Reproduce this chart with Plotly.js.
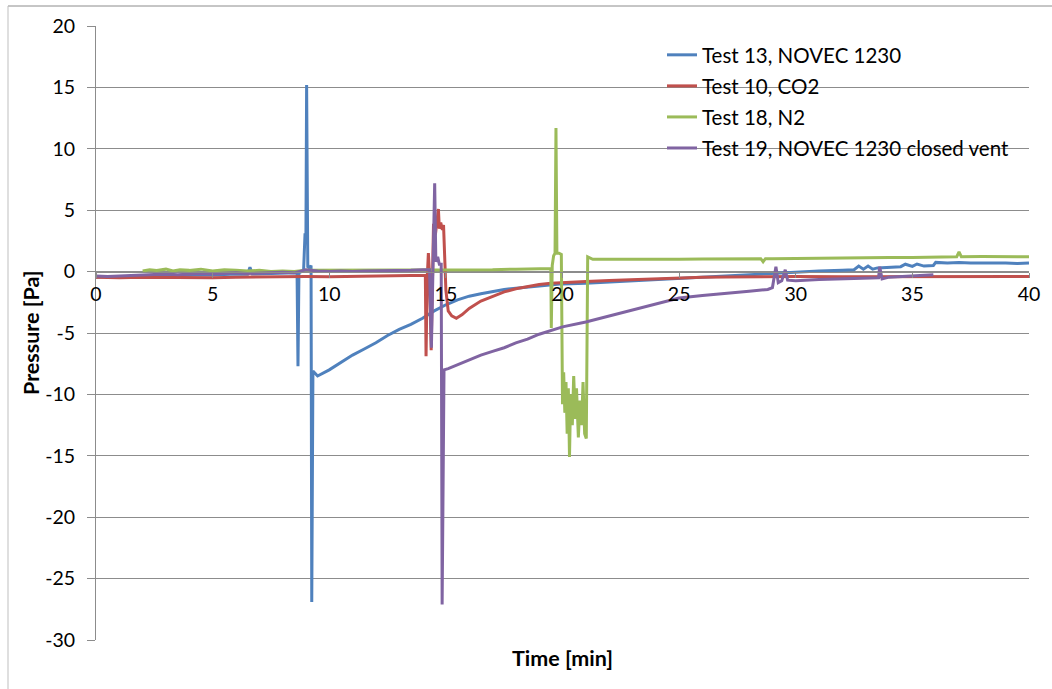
<!DOCTYPE html>
<html>
<head>
<meta charset="utf-8">
<script src="https://cdn.plot.ly/plotly-3.0.1.min.js"></script>
<style>html,body{margin:0;padding:0;background:#fff;}#chart{width:1052px;height:689px;}</style>
</head>
<body>
<div id="chart"></div>
<script>
// ---- Data ----
const seriesNames = ["Test 13, NOVEC 1230", "Test 10, CO2", "Test 18, N2", "Test 19, NOVEC 1230 closed vent"];

const t13 = [0,0.5,1,1.5,2,2.5,3,3.5,4,4.5,5,5.5,6,6.5,6.6,6.7,7,7.5,8,8.5,8.62,8.66,8.7,8.9,8.96,9.0,9.03,9.08,9.15,9.22,9.25,9.3,9.38,9.5,10,10.5,11,11.5,12,12.5,13,13.5,14,14.5,15,15.5,16,16.5,17,17.5,18,19,20,21,22,23,24,25,26,27,28,29,30,31,32,32.5,32.7,32.9,33.1,33.3,33.5,34,34.5,34.7,35,35.2,35.5,35.9,36,36.5,37,37.5,38,38.5,39,39.5,40];
const p13 = [-0.45,-0.4,-0.42,-0.38,-0.35,-0.33,-0.3,-0.32,-0.28,-0.25,-0.27,-0.22,-0.2,-0.22,0.35,-0.2,-0.18,-0.15,-0.12,-0.1,-0.1,-7.7,-0.1,0.1,3.0,3.0,15.2,0.4,0.3,0.5,-26.9,-8.1,-8.3,-8.5,-8.0,-7.4,-6.8,-6.3,-5.8,-5.2,-4.7,-4.3,-3.8,-3.2,-2.7,-2.3,-2.0,-1.8,-1.6,-1.45,-1.35,-1.15,-1.0,-0.95,-0.85,-0.75,-0.65,-0.5,-0.42,-0.32,-0.22,-0.12,-0.05,0.05,0.12,0.15,0.45,0.2,0.45,0.2,0.3,0.35,0.4,0.6,0.42,0.62,0.45,0.5,0.75,0.7,0.75,0.7,0.72,0.68,0.7,0.65,0.7];

const t10 = [0,1,2,3,4,5,6,7,8,9,10,11,12,13,14,14.12,14.15,14.2,14.25,14.3,14.37,14.42,14.47,14.55,14.62,14.68,14.72,14.78,14.85,14.9,15.0,15.1,15.25,15.45,15.7,16,16.5,17,17.5,18,18.5,19,19.5,20,21,22,23,24,25,26,27,28,30,32,34,36,38,40];
const p10 = [-0.45,-0.5,-0.45,-0.48,-0.45,-0.5,-0.45,-0.42,-0.45,-0.4,-0.42,-0.38,-0.35,-0.32,-0.3,-0.3,-6.9,-0.5,1.5,-0.3,-6.4,0.0,3.9,3.0,4.0,5.1,3.5,4.0,3.4,3.8,-1.5,-3.2,-3.6,-3.8,-3.5,-3.0,-2.4,-2.0,-1.65,-1.4,-1.2,-1.05,-0.95,-0.88,-0.8,-0.72,-0.65,-0.58,-0.52,-0.47,-0.44,-0.42,-0.4,-0.42,-0.4,-0.42,-0.4,-0.4];

const t18 = [2.0,2.3,2.6,3.0,3.3,3.6,4.0,4.5,5.0,5.5,6.0,6.5,7.0,7.5,8.0,8.5,9.0,10,11,12,13,14,15,16,17,18,19,19.5,19.52,19.56,19.62,19.68,19.72,19.76,19.85,19.95,20.0,20.05,20.1,20.15,20.2,20.25,20.3,20.35,20.42,20.48,20.55,20.6,20.68,20.75,20.82,20.88,20.95,21.02,21.08,21.3,22,23,24,25,26,27,28,28.5,28.6,28.7,29,30,31,32,33,34,35,36,36.9,37.0,37.1,38,39,40];
const p18 = [0.05,0.15,0.1,0.2,0.05,0.15,0.1,0.2,0.05,0.15,0.1,0.05,0.1,0.0,0.05,0.0,0.1,0.1,0.1,0.1,0.1,0.1,0.1,0.15,0.15,0.2,0.2,0.25,-4.6,0.5,1.3,1.5,11.7,1.5,1.5,1.4,-10.8,-8.2,-11.5,-9.0,-13.2,-9.5,-15.1,-10.0,-12.5,-8.5,-12.0,-9.5,-13.5,-10.5,-12.5,-9.0,-13.2,-13.6,1.2,1.0,1.0,0.98,1.0,1.0,1.02,1.05,1.05,1.05,0.8,1.05,1.05,1.08,1.1,1.1,1.12,1.15,1.15,1.18,1.2,1.6,1.2,1.22,1.2,1.2];

const t19 = [0,0.5,1,1.5,2,2.5,3,3.5,4,4.5,5,5.5,6,6.5,7,7.5,8,8.5,8.8,9,9.5,10,10.5,11,11.5,12,12.5,13,13.5,14,14.3,14.38,14.45,14.52,14.57,14.65,14.72,14.8,14.84,14.92,15.1,15.5,16,16.5,17,17.5,18,18.5,19,19.5,20,21,22,23,24,25,26,27,28,28.8,29.0,29.15,29.25,29.4,29.55,29.65,30,31,32,33,33.55,33.6,33.7,34,35,35.9];
const p19 = [-0.35,-0.4,-0.35,-0.3,-0.3,-0.25,-0.2,-0.25,-0.2,-0.15,-0.2,-0.15,-0.1,-0.15,-0.1,-0.1,-0.05,-0.1,0.05,0.15,0.05,0.0,0.05,0.0,0.05,0.05,0.1,0.1,0.1,0.15,0.15,-6.2,0.2,7.2,0.8,1.2,0.6,0.6,-27.1,-8.0,-7.9,-7.6,-7.2,-6.8,-6.5,-6.2,-5.8,-5.5,-5.1,-4.8,-4.5,-4.1,-3.6,-3.1,-2.6,-2.15,-1.95,-1.8,-1.6,-1.45,-1.3,0.4,-0.9,-0.75,0.15,-0.7,-0.75,-0.65,-0.6,-0.55,-0.5,0.4,-0.6,-0.45,-0.35,-0.25];

const xTicks = [0,5,10,15,20,25,30,35,40];
const yTicks = [-30,-25,-20,-15,-10,-5,0,5,10,15,20];
const colors = ["#4F81BD", "#C0504D", "#9BBB59", "#8064A2"];

// ---- Chart ----
const xs = [t13, t10, t18, t19];
const ys = [p13, p10, p18, p19];
const traces = xs.map((x, i) => ({
  type: "scatter", mode: "lines", x: x, y: ys[i], name: seriesNames[i],
  legendgroup: "g" + i,
  line: {color: colors[i], width: 3}
}));

const FONT = "Lato, 'Liberation Sans', sans-serif";
const gridCol = "#8c8c8c";
const L = 96, R = 1029, T = 26, B = 640;
const px2x = p => (p - L) / (R - L);
const px2y = p => (B - p) / (B - T);

const layout = {
  width: 1052, height: 689,
  margin: {l: L, r: 1052 - R, t: T, b: 689 - B, pad: 0},
  paper_bgcolor: "#fff", plot_bgcolor: "#fff",
  font: {family: FONT, size: 19, color: "#000"},
  showlegend: true,
  legend: {x: px2x(662), y: px2y(35), xanchor: "left", yanchor: "top",
           traceorder: "grouped", tracegroupgap: 1.4, itemwidth: 30,
           font: {family: FONT, size: 20.5, color: "#000"}, bgcolor: "rgba(0,0,0,0)"},
  xaxis: {range: [0, 40], tickvals: xTicks, ticktext: xTicks.map(String),
          anchor: "free", position: 0.6, showgrid: false, zeroline: false,
          showline: true, linecolor: gridCol, linewidth: 1,
          ticks: "outside", ticklen: 5, tickcolor: gridCol,
          tickfont: {family: FONT, size: 19.5, color: "#000"}},
  yaxis: {range: [-30, 20], tickvals: yTicks, ticktext: yTicks.map(String),
          showgrid: true, gridcolor: gridCol, gridwidth: 1, zeroline: false,
          showline: true, linecolor: gridCol, linewidth: 1,
          ticks: "outside", ticklen: 8, tickcolor: gridCol, ticklabelstandoff: 8,
          tickfont: {family: FONT, size: 19.5, color: "#000"}},
  annotations: [
    {text: "<b>Pressure [Pa]</b>", xref: "paper", yref: "paper", x: px2x(31), y: 0.5,
     textangle: -90, showarrow: false, xanchor: "center", yanchor: "middle",
     font: {family: FONT, size: 21.5, color: "#000"}},
    {text: "<b>Time [min]</b>", xref: "paper", yref: "paper", x: 0.5, y: px2y(658),
     showarrow: false, xanchor: "center", yanchor: "middle",
     font: {family: FONT, size: 21.5, color: "#000"}}
  ],
  shapes: [
    {type: "line", xref: "paper", yref: "paper", x0: px2x(8), x1: px2x(1060), y0: px2y(6), y1: px2y(6),
     line: {color: "#8c8c8c", width: 1}},
    {type: "line", xref: "paper", yref: "paper", x0: px2x(8), x1: px2x(8), y0: px2y(6), y1: px2y(700),
     line: {color: "#bfbfbf", width: 1}}
  ]
};

Plotly.newPlot("chart", traces, layout, {displayModeBar: false, staticPlot: true});
</script>
</body>
</html>
